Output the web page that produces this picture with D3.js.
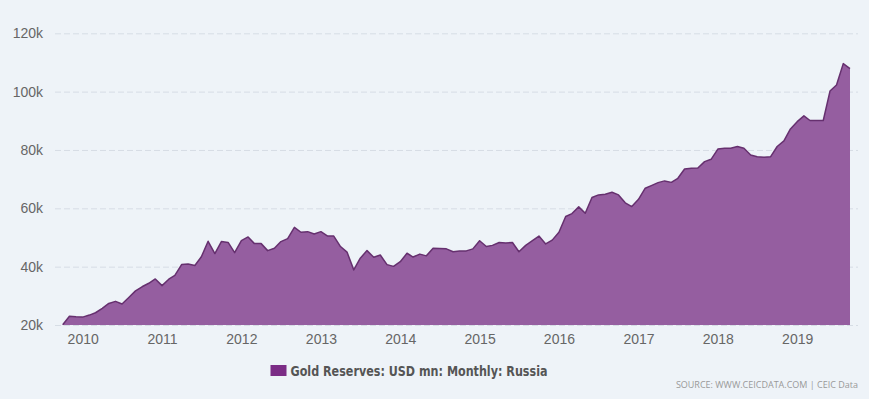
<!DOCTYPE html>
<html>
<head>
<meta charset="utf-8">
<script src="https://cdn.jsdelivr.net/npm/d3@7"></script>
<style>
  html, body { margin: 0; padding: 0; background: #eef3f8; }
  svg { display: block; font-family: "DejaVu Sans", sans-serif; }
</style>
</head>
<body>
<div id="wrapper"></div>
<script>
// Monthly series, Oct 2009 .. Sep 2019, USD mn shown in thousands (k)
const startMonth = new Date(2009, 9, 1);
const reservesK = [
  20.1, 23.0, 22.8, 22.7, 23.4, 24.2, 25.7, 27.4, 28.1, 27.2, 29.4, 31.7,
  33.1, 34.3, 35.8, 33.5, 35.7, 37.0, 40.7, 40.9, 40.4, 43.4, 48.7, 44.5,
  48.6, 48.3, 44.8, 48.9, 50.2, 47.9, 47.9, 45.5, 46.3, 48.6, 49.6, 53.5,
  51.8, 52.0, 51.2, 52.0, 50.5, 50.5, 46.9, 45.0, 38.9, 42.9, 45.5, 43.2,
  44.0, 40.7, 40.1, 41.7, 44.6, 43.3, 44.3, 43.7, 46.3, 46.2, 46.1, 45.1,
  45.4, 45.4, 46.1, 48.9, 46.9, 47.3, 48.3, 48.1, 48.3, 45.1, 47.3, 48.9,
  50.5, 47.8, 49.1, 51.8, 57.2, 58.2, 60.5, 58.3, 63.7, 64.6, 64.8, 65.5,
  64.6, 61.9, 60.6, 63.1, 66.9, 67.8, 68.8, 69.4, 68.9, 70.3, 73.5, 73.7,
  73.8, 76.0, 76.8, 80.3, 80.6, 80.6, 81.2, 80.6, 78.3, 77.7, 77.5, 77.7,
  81.2, 83.1, 87.2, 89.7, 91.7, 90.1, 90.1, 90.1, 100.2, 102.3, 109.6, 107.9
];
const yTicks = [20, 40, 60, 80, 100, 120];
const seriesName = "Gold Reserves: USD mn: Monthly: Russia";
const sourceText = "SOURCE: WWW.CEICDATA.COM | CEIC Data";

const data = reservesK.map((v, i) => ({
  date: d3.timeMonth.offset(startMonth, i),
  value: v,
}));
const xAccessor = (d) => d.date;
const yAccessor = (d) => d.value;

let dimensions = {
  width: 869,
  height: 399,
  gridLeft: 55,
  gridRight: 858,
  plotLeft: 62.7,
  plotRight: 850,
  plotTop: 33.3,
  plotBottom: 325,
};

const wrapper = d3.select("#wrapper")
  .append("svg")
    .attr("width", dimensions.width)
    .attr("height", dimensions.height);

wrapper.append("rect")
  .attr("width", dimensions.width)
  .attr("height", dimensions.height)
  .attr("fill", "#eef3f8");

const xScale = d3.scaleTime()
  .domain(d3.extent(data, xAccessor))
  .range([dimensions.plotLeft, dimensions.plotRight]);
const yScale = d3.scaleLinear()
  .domain([20, 120])
  .range([dimensions.plotBottom, dimensions.plotTop]);

// y axis + dashed grid
const yAxis = wrapper.append("g")
  .attr("transform", `translate(${dimensions.gridLeft},0)`)
  .call(d3.axisLeft(yScale)
    .tickValues(yTicks)
    .tickSize(-(dimensions.gridRight - dimensions.gridLeft))
    .tickPadding(12)
    .tickFormat((d) => `${d}k`));
yAxis.select(".domain").remove();
yAxis.selectAll(".tick line")
  .attr("stroke", "#d6dde5")
  .attr("stroke-dasharray", "6,3");
yAxis.selectAll(".tick text")
  .attr("fill", "#666")
  .style("font-size", "14px");

// area
const areaGenerator = d3.area()
  .x((d) => xScale(xAccessor(d)))
  .y0(yScale(20))
  .y1((d) => yScale(yAccessor(d)));
const lineGenerator = d3.line()
  .x((d) => xScale(xAccessor(d)))
  .y((d) => yScale(yAccessor(d)));

wrapper.append("path")
  .attr("d", areaGenerator(data))
  .attr("fill", "#955ea0");
wrapper.append("path")
  .attr("d", lineGenerator(data))
  .attr("fill", "none")
  .attr("stroke", "#66306f")
  .attr("stroke-width", 1.5)
  .attr("stroke-linejoin", "round");

// x axis
const xAxis = wrapper.append("g")
  .attr("transform", `translate(0,${dimensions.plotBottom})`)
  .call(d3.axisBottom(xScale)
    .ticks(d3.timeYear.every(1))
    .tickSize(0)
    .tickPadding(9)
    .tickFormat(d3.timeFormat("%Y")));
xAxis.select(".domain").remove();
xAxis.selectAll(".tick text")
  .attr("fill", "#666")
  .style("font-size", "14px");

// legend
const legend = wrapper.append("g");
legend.append("rect")
  .attr("x", 270.5)
  .attr("y", 365)
  .attr("width", 16)
  .attr("height", 11)
  .attr("fill", "#7b2c86");
legend.append("text")
  .attr("x", 290.5)
  .attr("y", 376)
  .attr("fill", "#555")
  .attr("textLength", 257)
  .attr("lengthAdjust", "spacingAndGlyphs")
  .style("font-size", "14px")
  .style("font-weight", "bold")
  .text(seriesName);

// credits
wrapper.append("text")
  .attr("x", 858)
  .attr("y", 388)
  .attr("text-anchor", "end")
  .attr("fill", "#999")
  .style("font-family", "'Open Sans', sans-serif")
  .style("font-size", "9px")
  .text(sourceText);
</script>
</body>
</html>
